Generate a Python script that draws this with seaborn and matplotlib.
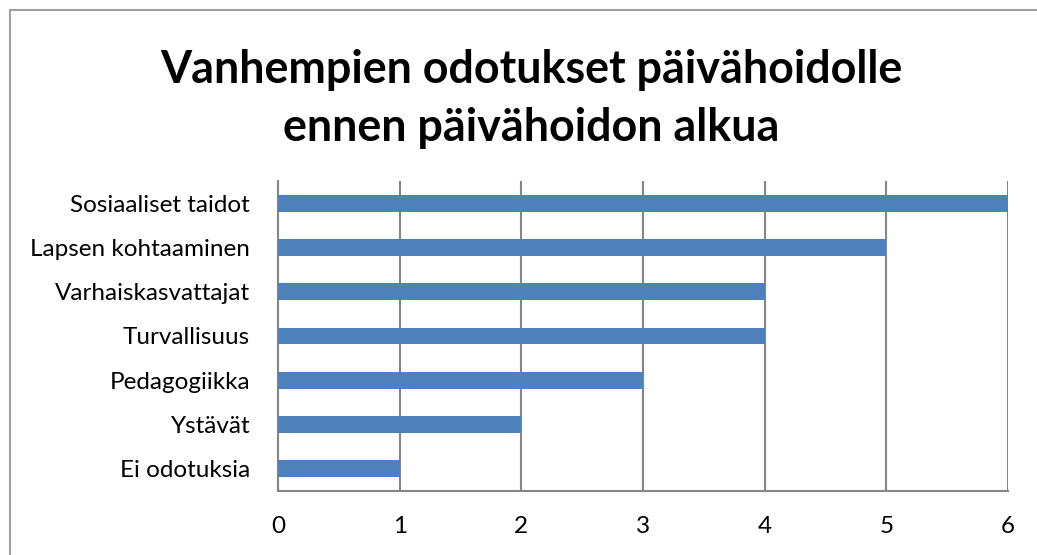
import matplotlib
matplotlib.use("Agg")
import matplotlib.pyplot as plt
import seaborn as sns
import pandas as pd
from matplotlib.patches import Rectangle

categories = ["Sosiaaliset taidot", "Lapsen kohtaaminen", "Varhaiskasvattajat",
              "Turvallisuus", "Pedagogiikka", "Ystävät", "Ei odotuksia"]
values = [6, 5, 4, 4, 3, 2, 1]
x_ticks = [0, 1, 2, 3, 4, 5, 6]
title = "Vanhempien odotukset päivähoidolle\nennen päivähoidon alkua"

sns.set_theme(style="white")
plt.rcParams['font.family'] = ['Lato', 'DejaVu Sans']

df = pd.DataFrame({"cat": categories, "val": values})

fig = plt.figure(figsize=(10.37, 5.55), dpi=100)
ax = fig.add_axes([278/1037, 1-491/555, 730/1037, 310/555])

sns.barplot(data=df, y="cat", x="val", orient="h", color="#4F81BD",
            saturation=1, width=0.38, linewidth=0, ax=ax, zorder=3)

ax.set_xlim(0, 6)
ax.set_xticks(x_ticks)
ax.set_xticklabels([str(t) for t in x_ticks], fontsize=17.5)
ax.tick_params(axis='x', length=0, pad=18, colors='black')
ax.tick_params(axis='y', length=0, pad=20, labelsize=17.5, colors='black')
ax.set_xlabel("")
ax.set_ylabel("")
ax.grid(axis='x', color='#868686', linewidth=1.5, zorder=0)
ax.grid(axis='y', visible=False)
for s in ['top', 'right']:
    ax.spines[s].set_visible(False)
for s in ['left', 'bottom']:
    ax.spines[s].set_color('#868686')
    ax.spines[s].set_linewidth(1.5)

fig.text(531/1037, 1-99/555, title, ha='center', va='center', fontsize=32.3,
         fontweight='bold', linespacing=1.45, color='black')

fig.patches.append(Rectangle((10/1037, -0.05), 1.1, 1-10/555+0.05,
                             transform=fig.transFigure, fill=False,
                             edgecolor='#A0A0A0', linewidth=1.5))

fig.savefig("out.png", dpi=100)
